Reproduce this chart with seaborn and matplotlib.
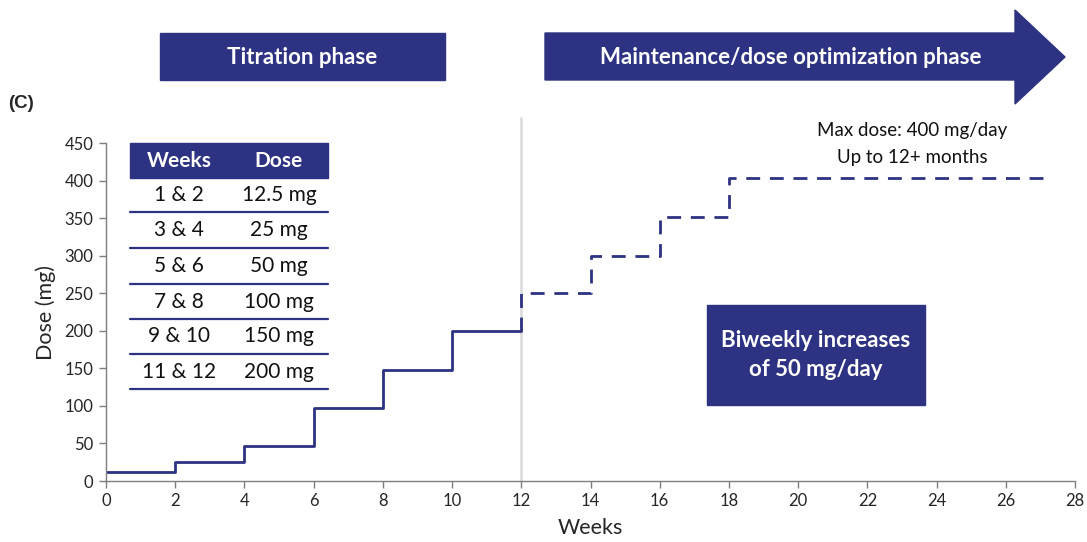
import matplotlib
matplotlib.use("Agg")
import matplotlib.pyplot as plt
import matplotlib.patches as mpatches
import seaborn as sns
import pandas as pd

# ---- data ----
titration_weeks = [0, 2, 4, 6, 8, 10, 12]
titration_dose = [12.5, 25, 47, 97, 148, 200, 200]
maint_weeks = [12, 12, 14, 16, 18, 27.3]
maint_dose = [200, 250, 300, 352, 403, 403]
table_weeks = ["1 & 2", "3 & 4", "5 & 6", "7 & 8", "9 & 10", "11 & 12"]
table_dose = ["12.5 mg", "25 mg", "50 mg", "100 mg", "150 mg", "200 mg"]
x_ticks = list(range(0, 29, 2))
y_ticks = list(range(0, 451, 50))

NAVY = "#2d3282"
W, H = 1087, 542

sns.set_theme(style="white")
plt.rcParams["font.family"] = ["Lato", "DejaVu Sans"]

fig = plt.figure(figsize=(W / 100, H / 100), dpi=100)
ax = fig.add_axes([106 / W, 1 - 481 / H, (1075 - 106) / W, (481 - 143) / H])


def fx(px):
    return px / W


def fy(py):
    return 1 - py / H


df1 = pd.DataFrame({"Weeks": titration_weeks, "Dose": titration_dose})
df2 = pd.DataFrame({"Weeks": maint_weeks, "Dose": maint_dose})
sns.lineplot(data=df1, x="Weeks", y="Dose", ax=ax, color=NAVY, lw=2.0,
             drawstyle="steps-post", sort=False, estimator=None)
sns.lineplot(data=df2, x="Weeks", y="Dose", ax=ax, color=NAVY, lw=2.0,
             drawstyle="steps-post", sort=False, estimator=None,
             linestyle=(0, (5, 3.5)))

ax.set_xlim(0, 28)
ax.set_ylim(0, 450)
ax.set_xticks(x_ticks)
ax.set_yticks(y_ticks)
ax.tick_params(axis="both", which="major", length=5, width=1, color="#7f7f7f",
               direction="out", labelsize=12, pad=4, bottom=True, left=True)
for s in ["top", "right"]:
    ax.spines[s].set_visible(False)
for s in ["left", "bottom"]:
    ax.spines[s].set_color("#7f7f7f")
    ax.spines[s].set_linewidth(1)
ax.set_xlabel("Weeks", fontsize=15.5, labelpad=6)
ax.set_ylabel("Dose (mg)", fontsize=15.5, labelpad=6)

# vertical separator at week 12
ax.plot([12, 12], [0, 483], color="#d9d9d9", lw=1.8, clip_on=False, zorder=0)

# ---- table ----
tl, tr = 130, 328
fig.patches.append(mpatches.Rectangle((fx(tl), fy(178)), fx(tr - tl), (178 - 143) / H,
                                      transform=fig.transFigure, color=NAVY, zorder=3))
fig.text(fx(179), fy(161), "Weeks", color="white", fontsize=15, fontweight="bold",
         ha="center", va="center", zorder=4)
fig.text(fx(279), fy(161), "Dose", color="white", fontsize=15, fontweight="bold",
         ha="center", va="center", zorder=4)
row_lines = [212, 248, 284, 319, 354, 389]
prev = 178
for wk, ds, ly in zip(table_weeks, table_dose, row_lines):
    cy = (prev + ly) / 2
    fig.text(fx(179), fy(cy), wk, fontsize=15, ha="center", va="center", color="#111111")
    fig.text(fx(279), fy(cy), ds, fontsize=15, ha="center", va="center", color="#111111")
    fig.add_artist(plt.Line2D([fx(tl), fx(tr)], [fy(ly), fy(ly)], color=NAVY, lw=1.6,
                              transform=fig.transFigure))
    prev = ly

# ---- phase banners ----
fig.patches.append(mpatches.Rectangle((fx(160), fy(80)), fx(445 - 160), (80 - 33) / H,
                                      transform=fig.transFigure, color=NAVY))
fig.text(fx(302), fy(57), "Titration phase", color="white", fontsize=16,
         fontweight="bold", ha="center", va="center")
arrow_pts = [(545, 33), (1015, 33), (1015, 10), (1065, 57), (1015, 104), (1015, 80), (545, 80)]
fig.patches.append(mpatches.Polygon([(fx(x), fy(y)) for x, y in arrow_pts], closed=True,
                                    transform=fig.transFigure, color=NAVY))
fig.text(fx(791), fy(57), "Maintenance/dose optimization phase", color="white",
         fontsize=16, fontweight="bold", ha="center", va="center")

fig.text(fx(8), fy(103), "(C)", fontsize=13.5, fontweight="bold", ha="left", va="center",
         family="Liberation Sans")

# ---- annotations ----
fig.text(fx(912), fy(131), "Max dose: 400 mg/day", fontsize=13.5, ha="center", va="center",
         color="#111111")
fig.text(fx(912), fy(157), "Up to 12+ months", fontsize=13.5, ha="center", va="center",
         color="#111111")
fig.patches.append(mpatches.Rectangle((fx(707), fy(405)), fx(925 - 707), (405 - 305) / H,
                                      transform=fig.transFigure, color=NAVY))
fig.text(fx(816), fy(355), "Biweekly increases\nof 50 mg/day", color="white", fontsize=16,
         fontweight="bold", ha="center", va="center", linespacing=1.45)

fig.savefig("out.png", dpi=100)
